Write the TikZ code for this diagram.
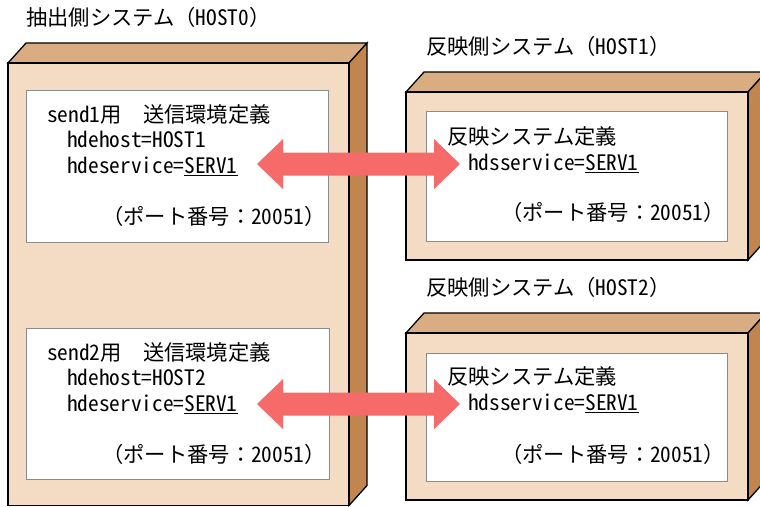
\documentclass[tikz,border=0pt]{standalone}
\usepackage{fontspec}
\setmainfont{Noto Sans CJK JP}[RawFeature=+hwid]
\newfontfamily\jf{Noto Sans CJK JP}
\usetikzlibrary{calc}
\definecolor{frontc}{RGB}{244,219,196}
\definecolor{topc}{RGB}{218,172,130}
\definecolor{sidec}{RGB}{193,134,80}
\definecolor{arrowc}{RGB}{246,106,106}
\definecolor{innerc}{RGB}{140,140,140}
\newcommand{\LP}{{\jf （}}
\newcommand{\RP}{{\jf ）}}
\newcommand{\CL}{{\jf ：}}
\newcommand{\SP}{{\jf 　}}
\tikzset{
  outline/.style={draw=black,line width=1.3pt,line join=miter},
  innerbox/.style={draw=innerc,fill=white,line width=0.8pt},
  txt/.style={anchor=west,inner sep=0pt,font=\fontsize{21.3}{22}\selectfont,text height=18.5pt,text depth=2.6pt},
  fat/.style={fill=arrowc}
}
% 3D box: #1 x0, #2 y0 (front top-left), #3 x1, #4 y1 (front bottom-right)
\newcommand{\mybox}[4]{%
  \fill[frontc] (#1,#2) rectangle (#3,#4);
  \filldraw[fill=topc,outline] (#1,#2) -- ++(18,-20) -- (#3+18,#2-20) -- (#3,#2) -- cycle;
  \filldraw[fill=sidec,outline] (#3,#2) -- (#3+18,#2-20) -- (#3+18,#4-20) -- (#3,#4) -- cycle;
  \draw[outline] (#1,#2) rectangle (#3,#4);
}
\newcommand{\fatarrow}[2]{%
  \fill[fat] (#1) -- ++(26,-25) -- ++(0,13.5) -- ($(#2)+(-26,-11.5)$) -- ++(0,-13.5) -- (#2)
    -- ++(-26,25) -- ++(0,-13.5) -- ($(#1)+(26,11.5)$) -- ++(0,13.5) -- cycle;
}
\begin{document}
\begin{tikzpicture}[x=1pt,y=-1pt]
\useasboundingbox (0,0) rectangle (760,506);
\begin{scope}
\clip (0,0) rectangle (760,506);
% boxes
\mybox{8}{63}{349}{505.5}
\mybox{406}{92}{748}{260}
\mybox{406}{333}{748}{500}
\end{scope}
% inner boxes
\node[innerbox,anchor=north west,minimum width=302pt,minimum height=152pt,inner sep=0] (s1) at (26,90) {};
\node[innerbox,anchor=north west,minimum width=303pt,minimum height=151pt,inner sep=0] (s2) at (26,328) {};
\node[innerbox,anchor=north west,minimum width=301pt,minimum height=130pt,inner sep=0] (r1) at (426,111) {};
\node[innerbox,anchor=north west,minimum width=301pt,minimum height=128pt,inner sep=0] (r2) at (426,353) {};
% titles
\node[txt] (t0) at (26,18) {抽出側システム\LP HOST0\RP};
\node[txt] (t1) at (426,47) {反映側システム\LP HOST1\RP};
\node[txt] (t2) at (426,288) {反映側システム\LP HOST2\RP};
% send1
\node[txt] (a1) at (47,115) {send1用\SP 送信環境定義};
\node[txt] (a2) at (67,140) {hdehost=HOST1};
\node[txt] (a3) at (67,166) {hdeservice=\underline{SERV1}};
\node[txt] (a4) at (102,217) {\LP ポート番号\CL 20051\RP};
% send2
\node[txt] (b1) at (47,353) {send2用\SP 送信環境定義};
\node[txt] (b2) at (67,378) {hdehost=HOST2};
\node[txt] (b3) at (67,404) {hdeservice=\underline{SERV1}};
\node[txt] (b4) at (102,455) {\LP ポート番号\CL 20051\RP};
% HOST1
\node[txt] (c1) at (447,137) {反映システム定義};
\node[txt] (c2) at (468,163) {hdsservice=\underline{SERV1}};
\node[txt] (c3) at (501,213) {\LP ポート番号\CL 20051\RP};
% HOST2
\node[txt] (d1) at (447,377) {反映システム定義};
\node[txt] (d2) at (468,403) {hdsservice=\underline{SERV1}};
\node[txt] (d3) at (501,455) {\LP ポート番号\CL 20051\RP};
% arrows
\coordinate (p1l) at (257,164);
\coordinate (p1r) at (460,164);
\coordinate (p2l) at (257,404);
\coordinate (p2r) at (460,404);
\fatarrow{p1l}{p1r}
\fatarrow{p2l}{p2r}
\end{tikzpicture}
\end{document}
